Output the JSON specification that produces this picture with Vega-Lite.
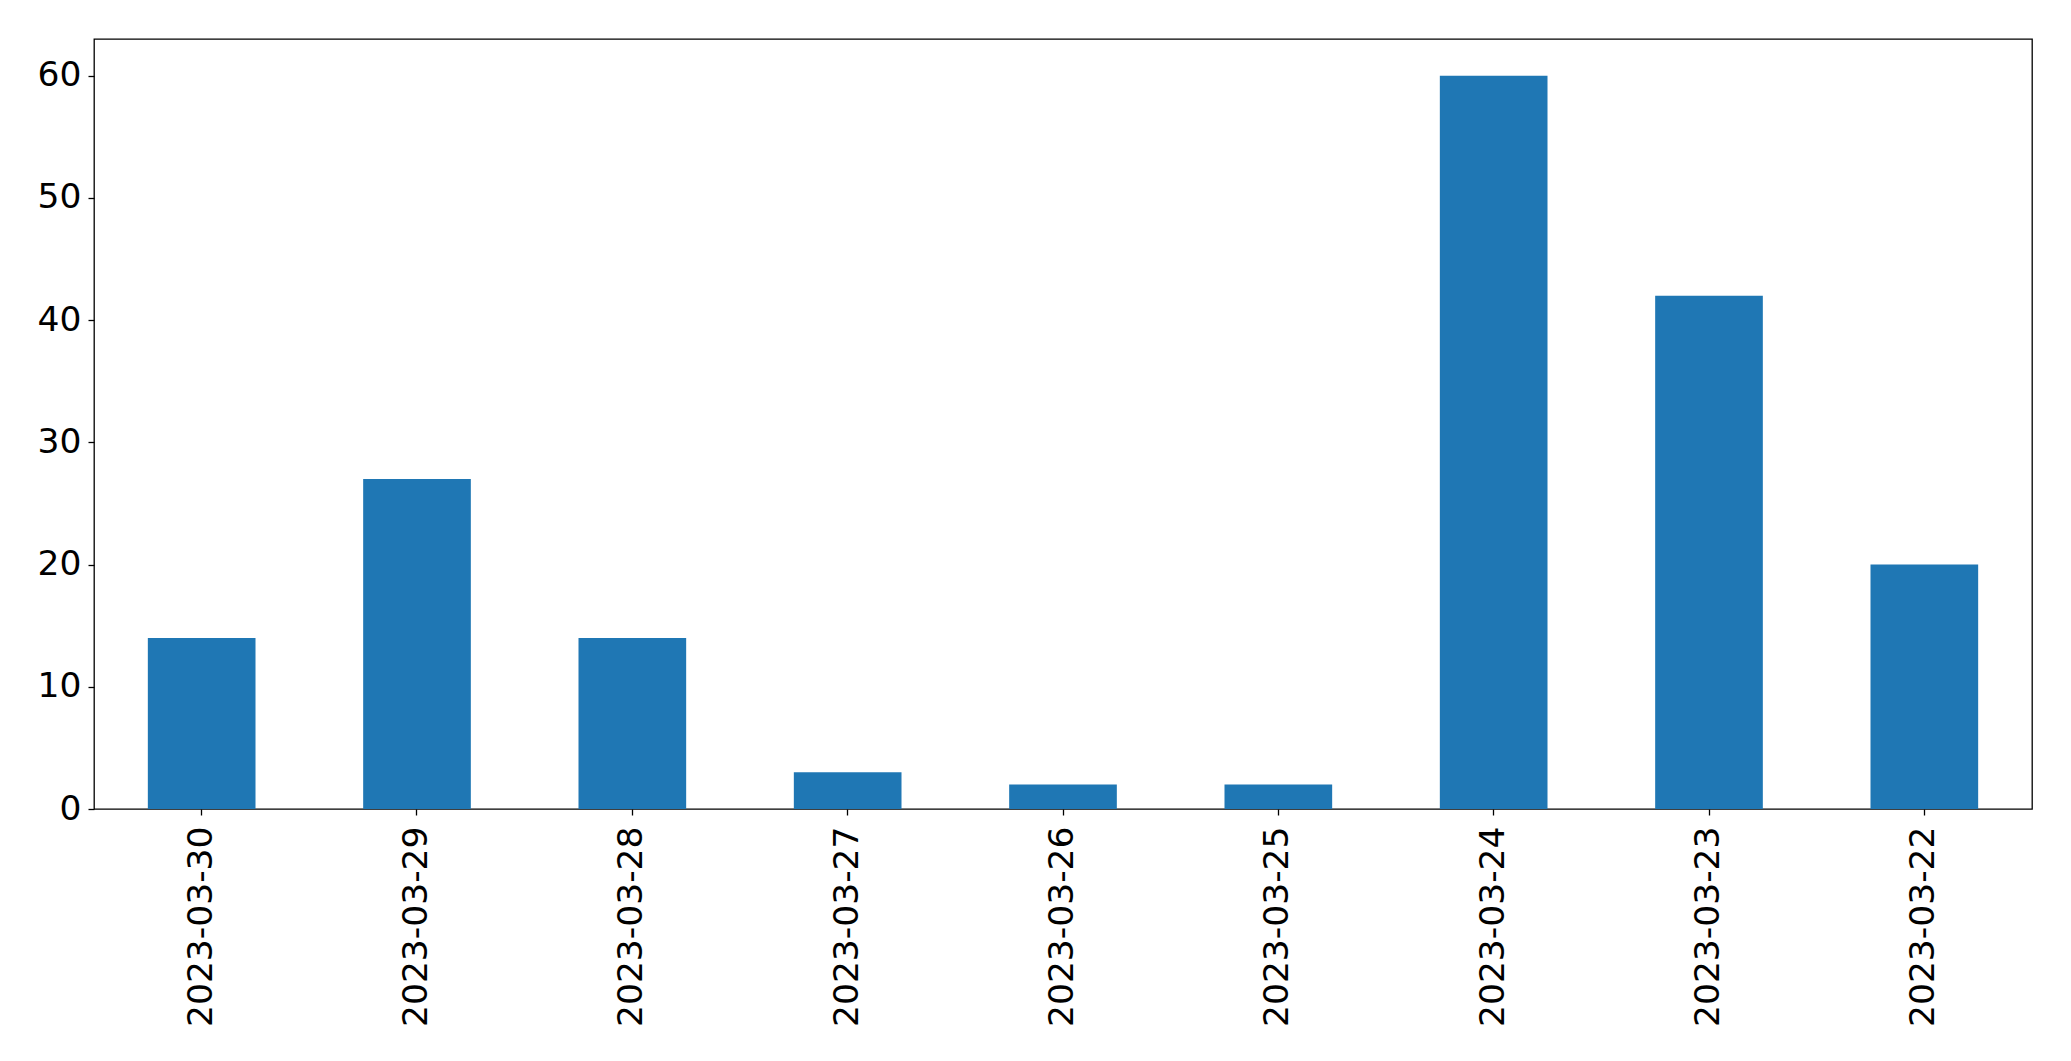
{
  "$schema": "https://vega.github.io/schema/vega-lite/v6.json",
  "autosize": "none",
  "width": 1938,
  "height": 770,
  "padding": {"left": 94, "top": 39, "right": 39, "bottom": 252},
  "background": "white",
  "config": {
    "view": {"stroke": "black", "strokeWidth": 1.3},
    "axis": {
      "labelFont": "DejaVu Sans",
      "labelFontSize": 34.5,
      "labelColor": "black",
      "labelLimit": 0,
      "tickColor": "black",
      "tickWidth": 1.3,
      "tickSize": 6,
      "domain": false,
      "grid": false,
      "title": null
    }
  },
  "data": {
    "values": [
      {"date": "2023-03-30", "count": 14},
      {"date": "2023-03-29", "count": 27},
      {"date": "2023-03-28", "count": 14},
      {"date": "2023-03-27", "count": 3},
      {"date": "2023-03-26", "count": 2},
      {"date": "2023-03-25", "count": 2},
      {"date": "2023-03-24", "count": 60},
      {"date": "2023-03-23", "count": 42},
      {"date": "2023-03-22", "count": 20}
    ]
  },
  "mark": {"type": "bar", "color": "#1f77b4"},
  "encoding": {
    "x": {
      "field": "date",
      "type": "nominal",
      "sort": null,
      "scale": {"paddingInner": 0.5, "paddingOuter": 0.25},
      "axis": {"labelAngle": -90, "labelPadding": 11}
    },
    "y": {
      "field": "count",
      "type": "quantitative",
      "scale": {"domain": [0, 63], "nice": false},
      "axis": {"values": [0, 10, 20, 30, 40, 50, 60], "labelPadding": 7}
    }
  }
}
